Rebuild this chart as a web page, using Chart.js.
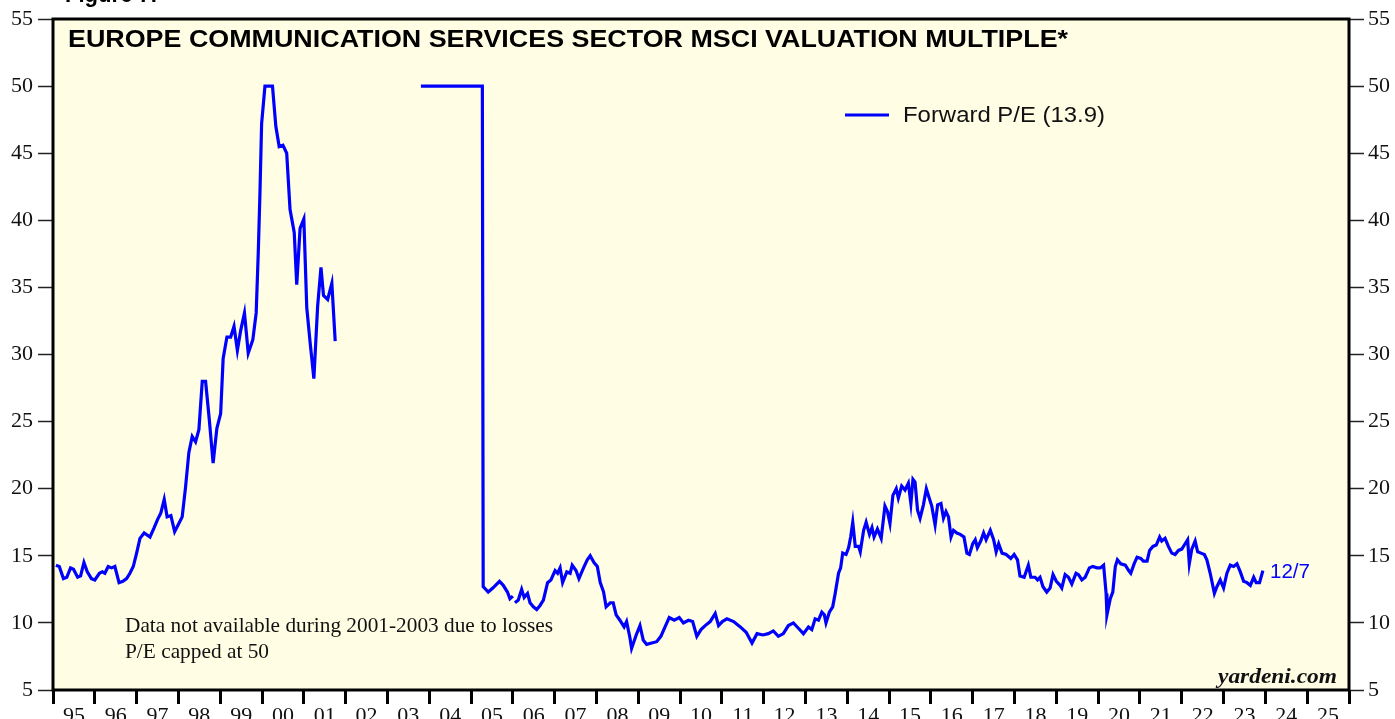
<!DOCTYPE html>
<html>
<head>
<meta charset="utf-8">
<script src="https://cdn.jsdelivr.net/npm/chart.js@4.4.1/dist/chart.umd.min.js"></script>
<style>
  body { margin: 0; background: #fff; }
  canvas { display: block; }
</style>
</head>
<body>
<canvas id="peChart" width="1395" height="719"></canvas>
<script>
  // year fractions (x) and forward P/E (y); null = no data
  const years = [
    1995.07, 1995.15, 1995.25, 1995.33, 1995.42, 1995.49, 1995.59, 1995.66, 1995.74, 1995.82, 1995.92,
    1996.00, 1996.11, 1996.18, 1996.24, 1996.32, 1996.40, 1996.48, 1996.58, 1996.67, 1996.76, 1996.84, 1996.92,
    1997.00, 1997.08, 1997.18, 1997.32, 1997.42, 1997.50, 1997.58, 1997.66, 1997.73, 1997.82, 1997.91,
    1998.01, 1998.09, 1998.17, 1998.25, 1998.33, 1998.41, 1998.49, 1998.57, 1998.65, 1998.74, 1998.83, 1998.92,
    1999.01, 1999.07, 1999.16, 1999.25, 1999.33, 1999.41, 1999.49, 1999.58, 1999.67, 1999.78, 1999.86, 1999.91, 1999.95, 1999.99,
    2000.07, 2000.25, 2000.33, 2000.41, 2000.50, 2000.59, 2000.67, 2000.77, 2000.83, 2000.91,
    2001.00, 2001.07, 2001.15, 2001.24, 2001.33, 2001.41, 2001.47, 2001.57, 2001.67, 2001.75,
    2002.50,
    2003.80, 2004.50, 2005.27,
    2005.29, 2005.41, 2005.52, 2005.68, 2005.77, 2005.87, 2005.93, 2006.00, 2006.02,
    2006.05, 2006.13, 2006.21, 2006.27, 2006.35, 2006.41, 2006.49, 2006.57, 2006.65, 2006.73, 2006.83, 2006.91,
    2007.01, 2007.07, 2007.13, 2007.19, 2007.29, 2007.37, 2007.42, 2007.51, 2007.58, 2007.69, 2007.78, 2007.85, 2007.94,
    2008.02, 2008.09, 2008.17, 2008.23, 2008.33, 2008.40, 2008.47, 2008.56, 2008.66, 2008.72, 2008.80, 2008.84, 2008.95,
    2009.04, 2009.12, 2009.20, 2009.32, 2009.44, 2009.54, 2009.64, 2009.74, 2009.86, 2009.98,
    2010.08, 2010.20, 2010.30, 2010.40, 2010.50, 2010.60, 2010.72, 2010.84, 2010.92,
    2011.01, 2011.12, 2011.28, 2011.44, 2011.58, 2011.72, 2011.84, 2011.98,
    2012.11, 2012.23, 2012.35, 2012.47, 2012.59, 2012.71, 2012.83, 2012.95,
    2013.07, 2013.15, 2013.23, 2013.31, 2013.39, 2013.45, 2013.49, 2013.57, 2013.65, 2013.71, 2013.79, 2013.84, 2013.89, 2013.97,
    2014.03, 2014.08, 2014.13, 2014.19, 2014.27, 2014.31, 2014.39, 2014.45, 2014.53, 2014.59, 2014.64, 2014.72, 2014.81, 2014.90, 2014.96,
    2015.02, 2015.09, 2015.17, 2015.22, 2015.30, 2015.38, 2015.46, 2015.52, 2015.57, 2015.62, 2015.68, 2015.74, 2015.82, 2015.89, 2015.94,
    2016.02, 2016.10, 2016.16, 2016.24, 2016.30, 2016.36, 2016.42, 2016.48, 2016.54, 2016.62, 2016.70, 2016.79, 2016.86, 2016.92,
    2017.00, 2017.06, 2017.11, 2017.19, 2017.26, 2017.32, 2017.42, 2017.50, 2017.56, 2017.62, 2017.70, 2017.80, 2017.91, 2017.99,
    2018.07, 2018.13, 2018.23, 2018.33, 2018.39, 2018.49, 2018.55, 2018.61, 2018.68, 2018.77, 2018.85, 2018.92,
    2019.00, 2019.09, 2019.13, 2019.21, 2019.29, 2019.37, 2019.47, 2019.53, 2019.61, 2019.69, 2019.79, 2019.87, 2019.97,
    2020.05, 2020.13, 2020.19, 2020.21, 2020.29, 2020.35, 2020.41, 2020.46, 2020.54, 2020.65, 2020.73, 2020.78, 2020.86, 2020.93,
    2021.02, 2021.08, 2021.17, 2021.23, 2021.31, 2021.39, 2021.47, 2021.52, 2021.60, 2021.68, 2021.76, 2021.84, 2021.92,
    2022.00, 2022.08, 2022.14, 2022.18, 2022.24, 2022.32, 2022.38, 2022.46, 2022.54, 2022.60, 2022.68, 2022.78, 2022.84, 2022.92,
    2023.00, 2023.08, 2023.16, 2023.24, 2023.32, 2023.40, 2023.48, 2023.56, 2023.64, 2023.72, 2023.78, 2023.86, 2023.94
  ];
  const forwardPE = [
    14.3, 14.2, 13.3, 13.4, 14.1, 14.0, 13.4, 13.5, 14.5, 13.8, 13.3,
    13.2, 13.7, 13.8, 13.7, 14.2, 14.1, 14.2, 13.0, 13.1, 13.3, 13.7, 14.2,
    15.2, 16.3, 16.7, 16.4, 17.1, 17.7, 18.2, 19.2, 17.9, 18.0, 16.8,
    17.4, 17.9, 20.1, 22.7, 23.9, 23.5, 24.4, 28.0, 28.0, 25.1, 21.9, 24.5,
    25.6, 29.7, 31.3, 31.3, 32.1, 30.3, 31.8, 33.1, 30.1, 31.1, 33.1, 37.6, 42.0, 47.2,
    50.0, 50.0, 47.0, 45.5, 45.6, 45.0, 40.8, 39.1, 35.2, 39.4,
    40.1, 33.5, 30.9, 28.2, 33.6, 36.5, 34.4, 34.1, 35.3, 31.0,
    null,
    50.0, 50.0, 50.0,
    12.7, 12.3, 12.6, 13.1, 12.8, 12.3, 11.8, 12.0, null,
    11.5, 11.7, 12.5, 11.9, 12.2, 11.5, 11.2, 11.0, 11.3, 11.7, 13.0, 13.2,
    13.9, 13.7, 14.1, 13.0, 13.8, 13.7, 14.3, 13.9, 13.3, 14.1, 14.7, 15.0, 14.5,
    14.2, 13.0, 12.3, 11.2, 11.5, 11.5, 10.6, 10.2, 9.7, 10.1, 8.9, 8.1, 9.1,
    9.8, 8.7, 8.4, 8.5, 8.6, 9.0, 9.7, 10.4, 10.2, 10.4,
    10.0, 10.2, 10.1, 9.0, 9.5, 9.8, 10.1, 10.7, 9.8,
    10.1, 10.3, 10.1, 9.7, 9.3, 8.5, 9.2, 9.1,
    9.2, 9.4, 9.0, 9.2, 9.8, 10.0, 9.6, 9.2,
    9.7, 9.5, 10.3, 10.2, 10.8, 10.6, 10.0, 10.8, 11.2, 12.2, 13.7, 14.1, 15.2, 15.1,
    15.6, 16.4, 17.5, 15.7, 15.7, 15.3, 16.9, 17.5, 16.6, 17.1, 16.4, 17.0, 16.3, 18.7, 18.3,
    17.4, 19.5, 20.0, 19.3, 20.2, 19.9, 20.4, 18.9, 20.7, 20.5, 18.4, 17.8, 18.8, 20.0, 19.5,
    18.7, 17.3, 18.8, 18.9, 17.8, 18.3, 17.9, 16.4, 16.9, 16.7, 16.6, 16.4, 15.2, 15.1,
    15.9, 16.2, 15.6, 16.1, 16.7, 16.2, 16.9, 16.2, 15.3, 15.9, 15.2, 15.1, 14.8, 15.1,
    14.7, 13.5, 13.4, 14.3, 13.4, 13.4, 13.2, 13.4, 12.7, 12.3, 12.6, 13.6,
    13.1, 12.8, 12.6, 13.6, 13.4, 12.9, 13.7, 13.6, 13.2, 13.4, 14.1, 14.2, 14.1,
    14.1, 14.3, 12.2, 10.6, 11.8, 12.3, 14.2, 14.7, 14.4, 14.3, 13.9, 13.7, 14.4, 14.9,
    14.8, 14.6, 14.6, 15.4, 15.7, 15.8, 16.4, 16.1, 16.3, 15.7, 15.2, 15.1, 15.4,
    15.5, 15.9, 16.2, 14.4, 15.5, 16.1, 15.3, 15.2, 15.1, 14.7, 13.7, 12.2, 12.7, 13.2,
    12.6, 13.7, 14.3, 14.2, 14.4, 13.8, 13.1, 13.0, 12.8, 13.4, 13.0, 13.0, 13.9
  ];
  const yearLabels = ['95','96','97','98','99','00','01','02','03','04','05','06','07','08','09','10',
    '11','12','13','14','15','16','17','18','19','20','21','22','23','24','25'];
  const yTicks = [5, 10, 15, 20, 25, 30, 35, 40, 45, 50, 55];

  const points = years.map((x, i) => ({ x: x, y: forwardPE[i] }));

  const serif = "'Liberation Serif', 'Times New Roman', serif";
  const sans = "'Liberation Sans', Arial, sans-serif";

  // draw text stretched horizontally to a given width (the original uses wide type)
  function wideText(ctx, text, x, y, width, align) {
    const w = ctx.measureText(text).width;
    const sx = width / w;
    ctx.save();
    ctx.translate(align === 'right' ? x - width : x, y);
    ctx.scale(sx, 1);
    ctx.textAlign = 'left';
    ctx.fillText(text, 0, 0);
    ctx.restore();
  }

  const decorations = {
    id: 'decorations',
    beforeDraw(chart) {
      const { ctx, chartArea: a } = chart;
      ctx.save();
      ctx.fillStyle = '#ffffff';
      ctx.fillRect(0, 0, chart.width, chart.height);
      ctx.fillStyle = '#fffee4';
      ctx.fillRect(a.left, a.top, a.right - a.left, a.bottom - a.top);
      ctx.restore();
    },
    afterDraw(chart) {
      const { ctx, chartArea: a } = chart;
      ctx.save();
      ctx.strokeStyle = '#000';
      ctx.lineWidth = 3;
      ctx.strokeRect(a.left, a.top, a.right - a.left, a.bottom - a.top);

      ctx.fillStyle = '#000';
      ctx.textBaseline = 'alphabetic';
      ctx.font = "bold 23px " + sans;
      wideText(ctx, 'Figure 7.', 65, 2, 92);

      ctx.font = "bold 24px " + sans;
      ctx.textBaseline = 'middle';
      wideText(ctx, 'EUROPE COMMUNICATION SERVICES SECTOR MSCI VALUATION MULTIPLE*', 68, 40, 1000);

      // legend
      ctx.strokeStyle = '#0000ff';
      ctx.lineWidth = 3;
      ctx.beginPath();
      ctx.moveTo(845, 115);
      ctx.lineTo(889, 115);
      ctx.stroke();
      ctx.font = "22px " + sans;
      ctx.fillStyle = '#111';
      wideText(ctx, 'Forward P/E (13.9)', 903, 116, 202);

      ctx.font = "21px " + serif;
      ctx.fillStyle = '#111';
      wideText(ctx, 'Data not available during 2001-2003 due to losses', 125, 626, 428);
      wideText(ctx, 'P/E capped at 50', 125, 652, 144);

      ctx.font = "italic bold 22px " + serif;
      wideText(ctx, 'yardeni.com', 1337, 677, 119, 'right');

      ctx.fillStyle = '#0000ff';
      ctx.font = "20px " + sans;
      wideText(ctx, '12/7', 1270, 572, 40);
      ctx.restore();
    }
  };

  const ctx = document.getElementById('peChart');

  new Chart(ctx, {
    type: 'line',
    data: {
      datasets: [{
        label: 'Forward P/E (13.9)',
        data: points,
        borderColor: '#0000ff',
        borderWidth: 3.2,
        pointRadius: 0,
        tension: 0,
        spanGaps: false
      }]
    },
    options: {
      responsive: false,
      animation: false,
      devicePixelRatio: 1,
      layout: { padding: { top: 19, left: 0, right: 0, bottom: 0 } },
      plugins: {
        legend: { display: false },
        tooltip: { enabled: false }
      },
      scales: {
        x: {
          type: 'linear',
          min: 1995,
          max: 2026,
          afterBuildTicks: (scale) => {
            scale.ticks = yearLabels.map((l, i) => ({ value: 1995 + i })).concat([{ value: 2026 }]);
          },
          afterFit: (scale) => { scale.height = 29; },
          grid: {
            drawOnChartArea: false,
            drawTicks: true,
            tickLength: 14,
            tickWidth: 3,
            tickColor: '#000'
          },
          border: { display: false },
          ticks: {
            autoSkip: false,
            maxRotation: 0,
            padding: -1,
            labelOffset: 20.9,
            color: '#111',
            font: { family: serif, size: 22 },
            callback: (v, i) => yearLabels[i] || ''
          }
        },
        y: {
          position: 'left',
          min: 5,
          max: 55,
          afterBuildTicks: (scale) => { scale.ticks = yTicks.map(v => ({ value: v })); },
          afterFit: (scale) => { scale.width = 53; },
          grid: {
            drawOnChartArea: false,
            tickLength: 15,
            tickWidth: 1.5,
            tickColor: '#222'
          },
          border: { display: false },
          ticks: {
            padding: 5,
            color: '#111',
            font: { family: serif, size: 22 }
          }
        },
        y2: {
          position: 'right',
          min: 5,
          max: 55,
          afterBuildTicks: (scale) => { scale.ticks = yTicks.map(v => ({ value: v })); },
          afterFit: (scale) => { scale.width = 46; },
          grid: {
            drawOnChartArea: false,
            tickLength: 15,
            tickWidth: 1.5,
            tickColor: '#222'
          },
          border: { display: false },
          ticks: {
            padding: 4,
            color: '#111',
            font: { family: serif, size: 22 }
          }
        }
      }
    },
    plugins: [decorations]
  });
</script>
</body>
</html>
